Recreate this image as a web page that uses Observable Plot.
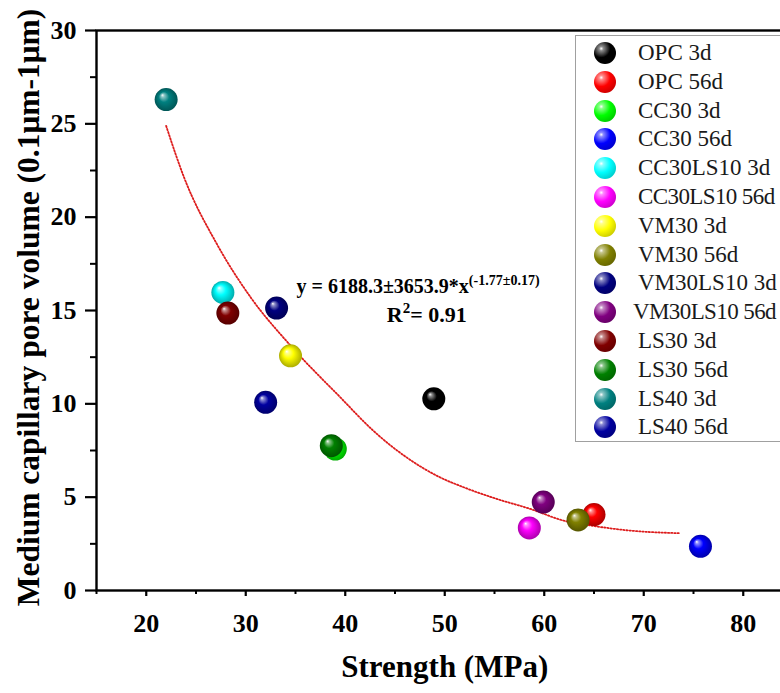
<!DOCTYPE html>
<html><head><meta charset="utf-8">
<script src="https://cdn.jsdelivr.net/npm/d3@7"></script>
<script src="https://cdn.jsdelivr.net/npm/@observablehq/plot@0.6"></script>
<style>
html,body{margin:0;padding:0;background:#fff;overflow:hidden;}
#wrap{position:relative;width:780px;height:693px;overflow:hidden;}
#legend{position:absolute;left:575px;top:35px;width:260px;height:407px;border:1.5px solid #a0a0a0;box-sizing:border-box;background:#fff;font-family:"Liberation Serif","Times New Roman",serif;font-size:23px;color:#1a1a1a;}
.item{position:absolute;left:0;height:28px;line-height:28px;white-space:nowrap;}
.ball{position:absolute;left:18px;top:3px;width:22px;height:22px;border-radius:50%;}
.lab{position:absolute;left:62px;top:0;}
</style></head><body><div id="wrap"></div>
<script>
// ---- data ----
const series = ["OPC 3d","OPC 56d","CC30 3d","CC30 56d","CC30LS10 3d","CC30LS10 56d","VM30 3d","VM30 56d","VM30LS10 3d","VM30LS10 56d","LS30 3d","LS30 56d","LS40 3d","LS40 56d"];
const colors = ["#000000","#ff0000","#00ff00","#0000ff","#00ffff","#ff00ff","#ffff00","#808000","#000080","#800080","#800000","#008000","#008080","#0000a0"];
const strength = [48.9, 65.0, 39.0, 75.7, 27.7, 58.5, 34.5, 63.4, 33.1, 59.9, 28.2, 38.6, 22.0, 32.0];
const poreVolume = [10.27, 4.07, 7.58, 2.37, 15.97, 3.35, 12.57, 3.78, 15.13, 4.74, 14.86, 7.76, 26.3, 10.08];
const fitStrength = [22.0, 23.8, 27.1, 30.5, 34.5, 39.5, 42.8, 49.5, 51.9, 55.2, 58.6, 61.9, 65.3, 68.6, 73.6];
const fitVolume = [24.89, 22.13, 18.56, 15.70, 13.12, 10.35, 8.57, 6.07, 5.53, 4.91, 4.37, 3.75, 3.43, 3.21, 3.07];
const xTicks = [20, 30, 40, 50, 60, 70, 80];
const xMinor = [15, 25, 35, 45, 55, 65, 75, 85];
const yTicks = [0, 5, 10, 15, 20, 25, 30];
const yMinor = [2.5, 7.5, 12.5, 17.5, 22.5, 27.5];
const xTitle = "Strength (MPa)";
const yTitle = "Medium capillary pore volume (0.1μm-1μm)";
const eqMain = "y = 6188.3±3653.9*x";
const eqExp = "(-1.77±0.17)";
const r2Text = ["R", "2", "= 0.91"];
const eqPos = [{x: 35.1, y: 15.95}];
const r2Pos = [{x: 48.2, y: 14.4}];

const points = series.map((s, i) => ({name: s, x: strength[i], y: poreVolume[i], fill: `url(#ball${i})`}));
const fit = fitStrength.map((x, i) => ({x, y: fitVolume[i]}));
const font = "Liberation Serif, Times New Roman, serif";

const chart = Plot.plot({
  width: 780, height: 693,
  marginLeft: 96, marginTop: 30, marginBottom: 103, marginRight: -12.5,
  style: {fontFamily: font, overflow: "hidden", background: "#fff", color: "#000"},
  x: {domain: [15, 85]},
  y: {domain: [0, 30]},
  color: {type: "identity"},
  marks: [
    Plot.line(fit, {x: "x", y: "y", curve: "monotone-x", stroke: "#dd1c1c", strokeWidth: 1.8, strokeDasharray: "1.3,1.9"}),
    Plot.dot(points, {x: "x", y: "y", r: 11.5, fill: "fill"}),
    Plot.frame({stroke: "#000", strokeWidth: 2.4}),
    Plot.axisX({ticks: xTicks, tickSize: 6, tickPadding: 17, fontSize: 26, fontWeight: "bold", fontFamily: font, strokeWidth: 2.2, label: null}),
    Plot.axisX({ticks: xMinor, tickSize: 4, tickFormat: () => "", strokeWidth: 2, label: null}),
    Plot.axisY({ticks: yTicks, tickSize: 11, tickPadding: 9, fontSize: 26, fontWeight: "bold", fontFamily: font, strokeWidth: 2.2, label: null}),
    Plot.axisY({ticks: yMinor, tickSize: 6, tickFormat: () => "", strokeWidth: 2, label: null}),
    Plot.text([xTitle], {frameAnchor: "bottom", dy: 86, fontSize: 31, fontWeight: "bold", fontFamily: font, lineAnchor: "bottom"}),
    Plot.text([yTitle], {frameAnchor: "left", dx: -68, dy: -3, rotate: -90, textAnchor: "middle", fontSize: 31.5, fontWeight: "bold", fontFamily: font}),
    Plot.text(eqPos, {x: "x", y: "y", text: () => eqMain, textAnchor: "start", lineAnchor: "bottom", fontSize: 20, fontWeight: "bold", fontFamily: font, className: "eqtext"}),
    Plot.text(r2Pos, {x: "x", y: "y", text: () => r2Text.join(""), textAnchor: "middle", lineAnchor: "bottom", fontSize: 22, fontWeight: "bold", fontFamily: font, className: "r2text"})
  ]
});

// gradients for 3D spheres
const svg = d3.select(chart.tagName.toLowerCase() === "svg" ? chart : chart.querySelector("svg"));
const defs = svg.insert("defs", ":first-child");
colors.forEach((c, i) => {
  const base = d3.color(c);
  const light = d3.interpolateRgb(c, "#ffffff")(0.55);
  const dark = base.darker(1.1).formatHex();
  const g = defs.append("radialGradient").attr("id", "ball" + i)
    .attr("cx", "50%").attr("cy", "50%").attr("r", "50%").attr("fx", "33%").attr("fy", "30%");
  g.append("stop").attr("offset", "0%").attr("stop-color", "#ffffff");
  g.append("stop").attr("offset", "14%").attr("stop-color", light);
  g.append("stop").attr("offset", "45%").attr("stop-color", c);
  g.append("stop").attr("offset", "100%").attr("stop-color", dark);
});

// superscripts
svg.selectAll("g.eqtext text").each(function () {
  const t = d3.select(this); t.text(null);
  t.append("tspan").text(eqMain);
  t.append("tspan").attr("dy", "-8").attr("font-size", "14").text(eqExp);
});
svg.selectAll("g.r2text text").each(function () {
  const t = d3.select(this); t.text(null);
  t.append("tspan").text(r2Text[0]);
  t.append("tspan").attr("dy", "-9").attr("font-size", "15").text(r2Text[1]);
  t.append("tspan").attr("dy", "9").text(r2Text[2]);
});

const wrap = document.getElementById("wrap");
wrap.appendChild(chart);

// legend (HTML, inside plot area)
const legend = document.createElement("div");
legend.id = "legend";
series.forEach((s, i) => {
  const it = document.createElement("div");
  it.className = "item";
  it.style.top = (3 + i * 28.8) + "px";
  const b = document.createElement("div");
  b.className = "ball";
  const dark = d3.color(colors[i]).darker(1.1).formatHex();
  const light = d3.interpolateRgb(colors[i], "#ffffff")(0.55);
  b.style.background = `radial-gradient(circle at 33% 30%, #fff 0%, ${light} 10%, ${colors[i]} 42%, ${dark} 100%)`;
  const l = document.createElement("span");
  l.className = "lab";
  l.textContent = s;
  if (s.length > 11) { l.style.letterSpacing = "-0.6px"; }
  if (s === "VM30LS10 56d") { l.style.left = "57px"; }
  it.appendChild(b); it.appendChild(l);
  legend.appendChild(it);
});
wrap.appendChild(legend);
</script></body></html>
